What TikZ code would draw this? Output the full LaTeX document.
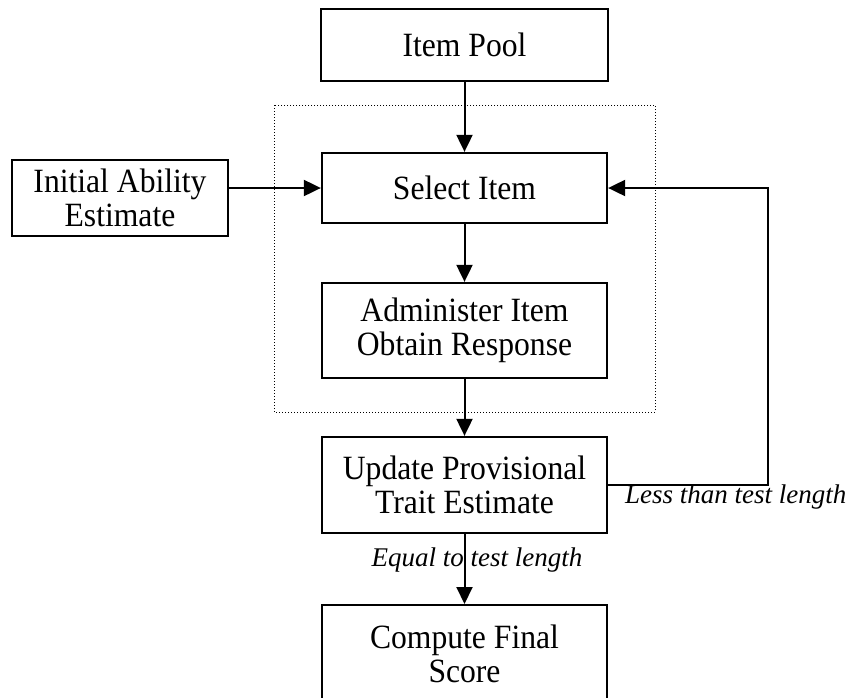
\documentclass[tikz,border=0pt]{standalone}
\usepackage{fontspec}
\setmainfont{Liberation Serif}[FakeStretch=0.93]
\newfontfamily\labelfont{Liberation Serif}
\usetikzlibrary{arrows.meta}
\begin{document}
\begin{tikzpicture}[x=1pt,y=-1pt,
  box/.style={draw, line width=2.3pt, inner sep=0pt, align=center,
    font=\fontsize{34}{34}\selectfont},
  flow/.style={line width=2pt, -{Triangle[length=17pt,width=16pt]}},
  lbl/.style={font=\labelfont\fontsize{27}{29}\selectfont\itshape, inner sep=0pt}]
\useasboundingbox (0,0) rectangle (847,697);
% process boxes
\node[box, minimum width=287pt, minimum height=72pt] (pool) at (464.5,45) {Item Pool};
\node[box, minimum width=285pt, minimum height=70pt] (select) at (464.5,188) {Select Item};
\node[box, minimum width=216pt, minimum height=76pt] (init) at (120,198) {Initial Ability\\Estimate};
\node[box, minimum width=285pt, minimum height=95pt] (admin) at (464.5,330.5) {Administer Item\\Obtain Response};
\node[box, minimum width=285pt, minimum height=96pt] (update) at (464.5,485) {Update Provisional\\Trait Estimate};
\node[box, minimum width=285pt, minimum height=110pt, anchor=north] (final) at (464.5,604) {};
\node[font=\fontsize{34}{34}\selectfont, align=center, anchor=base] (finaltxt) at (464.5,682) {Compute Final\\Score};
% item selection and administration block
\draw[dotted, line width=1pt] (274,105) rectangle (655,412);
% connectors
\draw[flow] (pool) -- (select);
\draw[flow] (init.east |- select) -- (select.west);
\draw[flow] (select) -- (admin);
\draw[flow] (admin) -- (update);
\draw[flow] (update) -- (final);
\coordinate (loop) at (768,485);
\draw[flow] (update.east) -- (loop) -- (loop |- select) -- (select.east);
% branch labels
\node[lbl, anchor=base west] (less) at (625,503) {Less than test length};
\node[lbl, anchor=base] (equal) at (477,566) {Equal to test length};
\end{tikzpicture}
\end{document}
